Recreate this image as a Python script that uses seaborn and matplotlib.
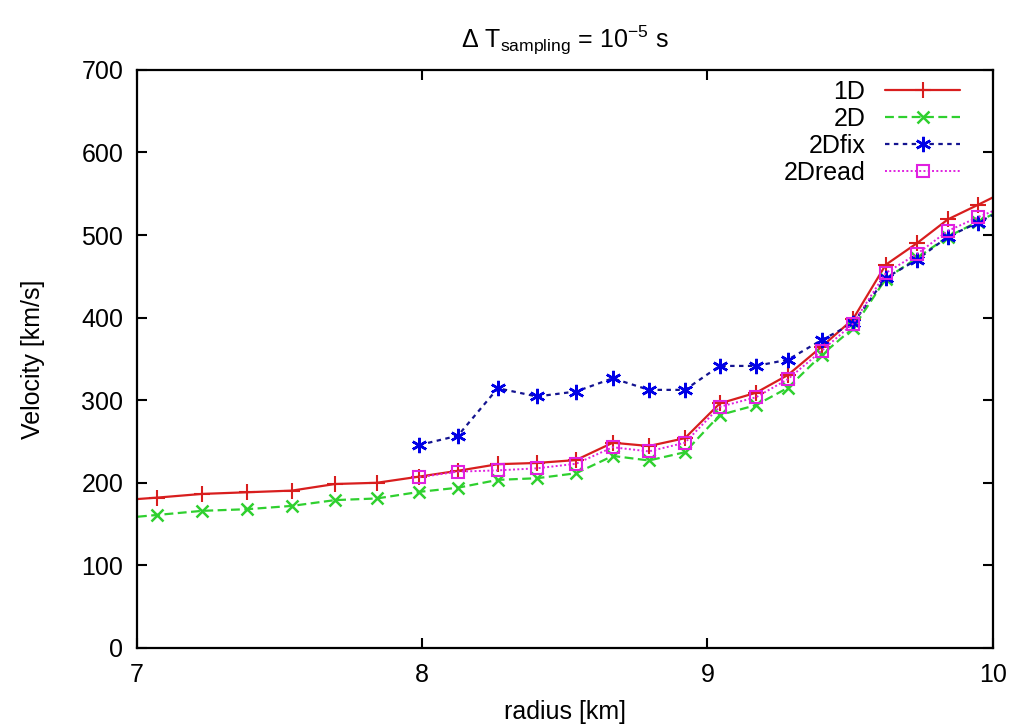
import numpy as np
import pandas as pd
import matplotlib
matplotlib.use("Agg")
import matplotlib.pyplot as plt
import seaborn as sns

# radius grid (km) and velocities (km/s)
radius = [6.91, 7.07, 7.228, 7.386, 7.543, 7.694, 7.841, 7.99, 8.125, 8.265,
          8.402, 8.539, 8.668, 8.795, 8.921, 9.043, 9.170, 9.282, 9.401, 9.510,
          9.625, 9.734, 9.843, 9.948, 10.05]
v_1d = [178, 182, 186.5, 188.5, 190.5, 198.5, 200, 207.5, 214.5, 222.5,
        224, 227.5, 248.5, 244.5, 254, 296, 309, 330.5, 365, 398,
        464, 490, 519, 536.5, 554]
v_2d = [156, 161, 166, 168, 172, 179, 181, 189, 194, 203.5,
        205.5, 211.5, 232.5, 227, 237, 282, 294, 315, 355, 387,
        447, 472, 498, 516, 534]

# 2Dfix and 2Dread only start at r ~ 8 km
radius_2d = radius[7:]
v_2dfix = [245.8, 257, 314.5, 304.5, 310.5, 326.5, 312.5, 312.5, 341.5, 341.5,
           349, 373, 393, 448, 470, 498, 515, 533]
v_2dread = [206.7, 213.5, 215, 217.5, 223, 243, 238, 248.5, 292, 303.5,
            325.5, 360, 392.5, 454, 477, 505, 521.5, 536]

sns.set_style("ticks")
plt.rcParams["font.family"] = ["Liberation Sans", "DejaVu Sans"]
plt.rcParams["mathtext.fontset"] = "custom"
plt.rcParams["mathtext.rm"] = "Liberation Sans"
plt.rcParams["mathtext.it"] = "Liberation Sans"
for k in ["text.color", "axes.labelcolor", "xtick.color", "ytick.color",
          "axes.edgecolor"]:
    plt.rcParams[k] = "black"

fig, ax = plt.subplots(figsize=(10.15, 7.28), dpi=100)
fig.subplots_adjust(left=0.135, right=0.978, top=0.904, bottom=0.11)

red, green, blue, magenta = "#d81e1e", "#2fd02f", "#0000e6", "#e020e0"

sns.lineplot(x=radius, y=v_1d, ax=ax, label="1D", color=red,
             linewidth=1.6, marker="+", markersize=11, markeredgewidth=1.5,
             markeredgecolor=red)
sns.lineplot(x=radius, y=v_2d, ax=ax, label="2D", color=green,
             linewidth=1.6, linestyle=(0, (4, 2)), marker="x",
             markersize=9, markeredgewidth=1.8, markeredgecolor=green)
sns.lineplot(x=radius_2d, y=v_2dfix, ax=ax, label="2Dfix", color="#141490",
             linewidth=1.6, linestyle=(0, (2, 2)), marker=(6, 2, 0),
             markersize=11, markeredgewidth=1.8, markeredgecolor=blue)
sns.lineplot(x=radius_2d, y=v_2dread, ax=ax, label="2Dread", color=magenta,
             linewidth=1.4, linestyle=(0, (1, 1.2)), marker="s",
             markersize=8, markerfacecolor="none", markeredgewidth=1.5,
             markeredgecolor=magenta)

ax.set_xlim(7, 10)
ax.set_ylim(0, 700)
ax.set_xticks([7, 8, 9, 10])
ax.set_yticks(range(0, 701, 100))

for s in ax.spines.values():
    s.set_visible(True)
    s.set_linewidth(1.6)
ax.tick_params(direction="in", length=7, width=1.5, top=True, right=True,
               labelsize=18)
ax.tick_params(axis="x", pad=11)
ax.tick_params(axis="y", pad=10)

ax.set_xlabel("radius [km]", fontsize=18, labelpad=9)
ax.set_ylabel("Velocity [km/s]", fontsize=18, labelpad=26)
ax.set_title(r"$\mathregular{\Delta\ T_{sampling}}$ = 10$^{\mathregular{-5}}$ s",
             fontsize=18, pad=16)

ax.legend(loc="upper right", bbox_to_anchor=(0.974, 1.0), borderaxespad=0,
          frameon=False, markerfirst=False, fontsize=18,
          handlelength=3.0, labelspacing=0.12, handletextpad=0.8)

fig.savefig("out.png", dpi=100)
